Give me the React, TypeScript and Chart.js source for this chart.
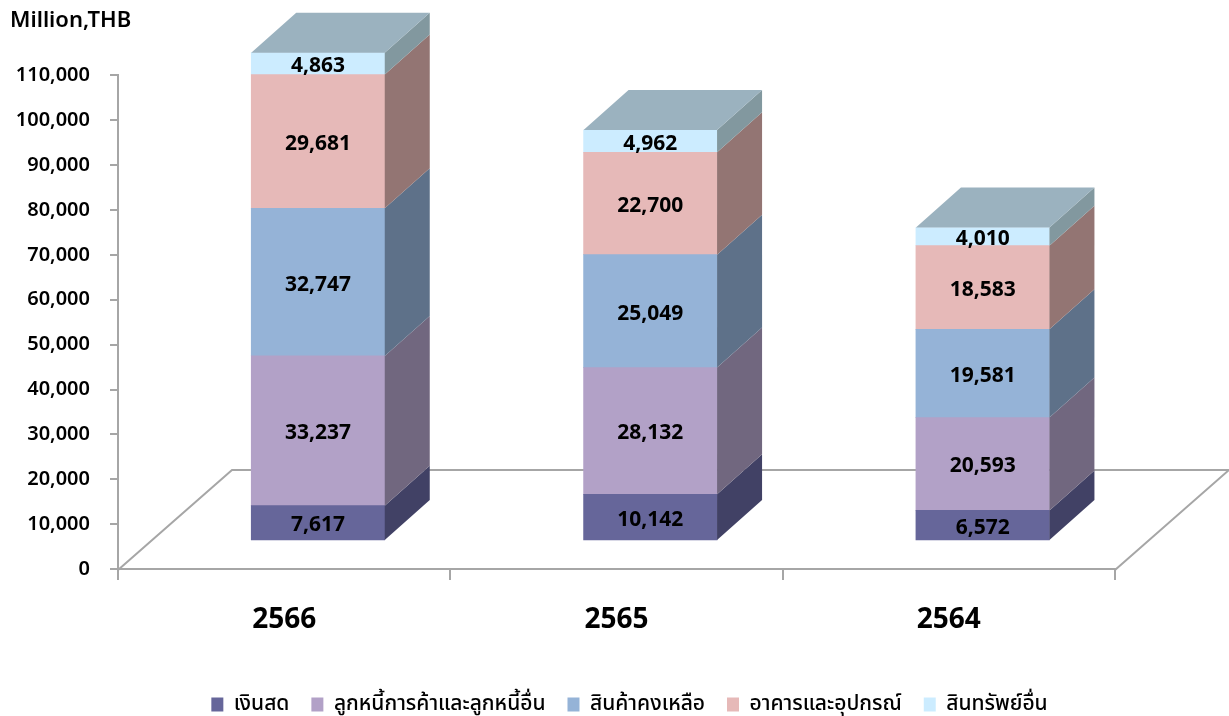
import React, { useEffect, useRef } from "react";
import { Chart, registerables } from "chart.js";

Chart.register(...registerables);

const categories = ["2566", "2565", "2564"];
const cash = [7617, 10142, 6572];
const receivables = [33237, 28132, 20593];
const inventories = [32747, 25049, 19581];
const property = [29681, 22700, 18583];
const otherAssets = [4863, 4962, 4010];
const seriesNames = ["เงินสด", "ลูกหนี้การค้าและลูกหนี้อื่น", "สินค้าคงเหลือ", "อาคารและอุปกรณ์", "สินทรัพย์อื่น"];
const unitTitle = "Million,THB";

const frontColors = ["#66669a", "#b2a1c7", "#95b3d7", "#e6b9b8", "#ccecff"];
const sideColors = ["#414165", "#71677f", "#5e7189", "#937573", "#82989f"];
const topColor = "#9bb2bf";
const lineColor = "#a6a6a6";
const FONT = '"Noto Sans", "Noto Sans Thai", sans-serif';
const DEPTH_X = 45;
const DEPTH_Y = 40;

const cube = {
  id: "cube",
  beforeDatasetsDraw(chart: any) {
    const { ctx, chartArea: a } = chart;
    ctx.save();
    ctx.strokeStyle = lineColor;
    ctx.lineWidth = 2;
    ctx.beginPath();
    ctx.moveTo(a.left, a.bottom + 1);
    ctx.lineTo(a.left + 114, a.bottom - 99);
    ctx.lineTo(a.right + 114, a.bottom - 99);
    ctx.lineTo(a.right, a.bottom + 1);
    ctx.stroke();
    ctx.restore();
  },
  afterDatasetsDraw(chart: any) {
    const { ctx } = chart;
    ctx.save();
    chart.data.datasets.forEach((ds: any, di: number) => {
      const meta = chart.getDatasetMeta(di);
      meta.data.forEach((bar: any, i: number) => {
        const r = bar.x + bar.width / 2;
        const l = bar.x - bar.width / 2;
        ctx.fillStyle = sideColors[di];
        ctx.beginPath();
        ctx.moveTo(r, bar.y);
        ctx.lineTo(r + DEPTH_X, bar.y - DEPTH_Y);
        ctx.lineTo(r + DEPTH_X, bar.base - DEPTH_Y);
        ctx.lineTo(r, bar.base);
        ctx.closePath();
        ctx.fill();
        if (di === chart.data.datasets.length - 1) {
          ctx.fillStyle = topColor;
          ctx.beginPath();
          ctx.moveTo(l, bar.y);
          ctx.lineTo(l + DEPTH_X, bar.y - DEPTH_Y);
          ctx.lineTo(r + DEPTH_X, bar.y - DEPTH_Y);
          ctx.lineTo(r, bar.y);
          ctx.closePath();
          ctx.fill();
        }
        const v = ds.data[i].y;
        ctx.fillStyle = "#000";
        ctx.font = `bold 21px ${FONT}`;
        ctx.textAlign = "center";
        ctx.textBaseline = "middle";
        ctx.fillText(v.toLocaleString("en-US"), bar.x, (bar.y + bar.base) / 2 + 2.5);
      });
    });
    ctx.restore();
  },
  beforeDraw(chart: any) {
    if (chart.titleBlock) {
      chart.titleBlock.left = 10;
      chart.titleBlock.right = 400;
    }
    if (chart.legend) {
      chart.legend.left = 30;
      chart.legend.right = 1229;
      chart.legend.top = 716 - chart.legend.height + 9;
    }
  },
};

export default function App() {
  const ref = useRef<HTMLCanvasElement>(null);
  useEffect(() => {
    const values = [cash, receivables, inventories, property, otherAssets];
    const chart = new Chart(ref.current as any, {
      type: "bar",
      data: {
        labels: categories,
        datasets: values.map((arr, k) => ({
          label: seriesNames[k],
          data: arr.map((y, i) => ({ x: i, y })),
          backgroundColor: frontColors[k],
          borderWidth: 0,
          xAxisID: "xBars",
          yAxisID: "yBars",
          barThickness: 133.5,
          clip: false,
        })) as any,
      },
      plugins: [cube],
      options: {
        responsive: false,
        animation: false,
        layout: { padding: 0 },
        plugins: {
          tooltip: { enabled: false },
          title: {
            display: true,
            text: unitTitle,
            align: "start",
            color: "#000",
            font: { family: FONT, size: 22, weight: "600" },
            padding: { top: 8, bottom: 41 },
          },
          legend: {
            position: "bottom",
            labels: {
              boxWidth: 12,
              boxHeight: 14,
              padding: 22,
              color: "#000",
              font: { family: FONT, size: 21, weight: "500" },
            },
          },
        },
        scales: {
          x: {
            type: "category",
            position: "bottom",
            offset: true,
            border: { color: lineColor, width: 2 },
            grid: { offset: true, drawOnChartArea: false, color: lineColor, lineWidth: 2, tickLength: 11 },
            ticks: { color: "#000", padding: 23, maxRotation: 0, font: { family: FONT, size: 28, weight: "bold" } },
            afterFit: (s: any) => {
              s.height = 147 - s.chart.legend.height;
            },
          },
          y: {
            type: "linear",
            position: "left",
            min: 0,
            max: 110000,
            border: { color: lineColor, width: 2 },
            grid: { drawOnChartArea: false, color: lineColor, lineWidth: 2, tickLength: 8 },
            ticks: {
              stepSize: 10000,
              color: "#000",
              padding: 20,
              font: { family: FONT, size: 20, weight: "600" },
              callback: (v: any) => Number(v).toLocaleString("en-US"),
            },
            afterFit: (s: any) => {
              s.width = 118;
            },
          },
          xBars: { type: "linear", display: false, stacked: true, offset: false, min: -0.6018, max: 2.3982 },
          yBars: {
            type: "linear",
            position: "right",
            stacked: true,
            min: -6430,
            max: 103104,
            border: { display: false },
            grid: { display: false, drawTicks: false },
            ticks: { display: false },
            afterFit: (s: any) => {
              s.width = 114;
            },
          },
        },
      } as any,
    });
    return () => chart.destroy();
  }, []);
  return (
    <canvas
      ref={ref}
      width={1229}
      height={716}
      style={{ position: "absolute", left: 0, top: 0, display: "block" }}
    />
  );
}
